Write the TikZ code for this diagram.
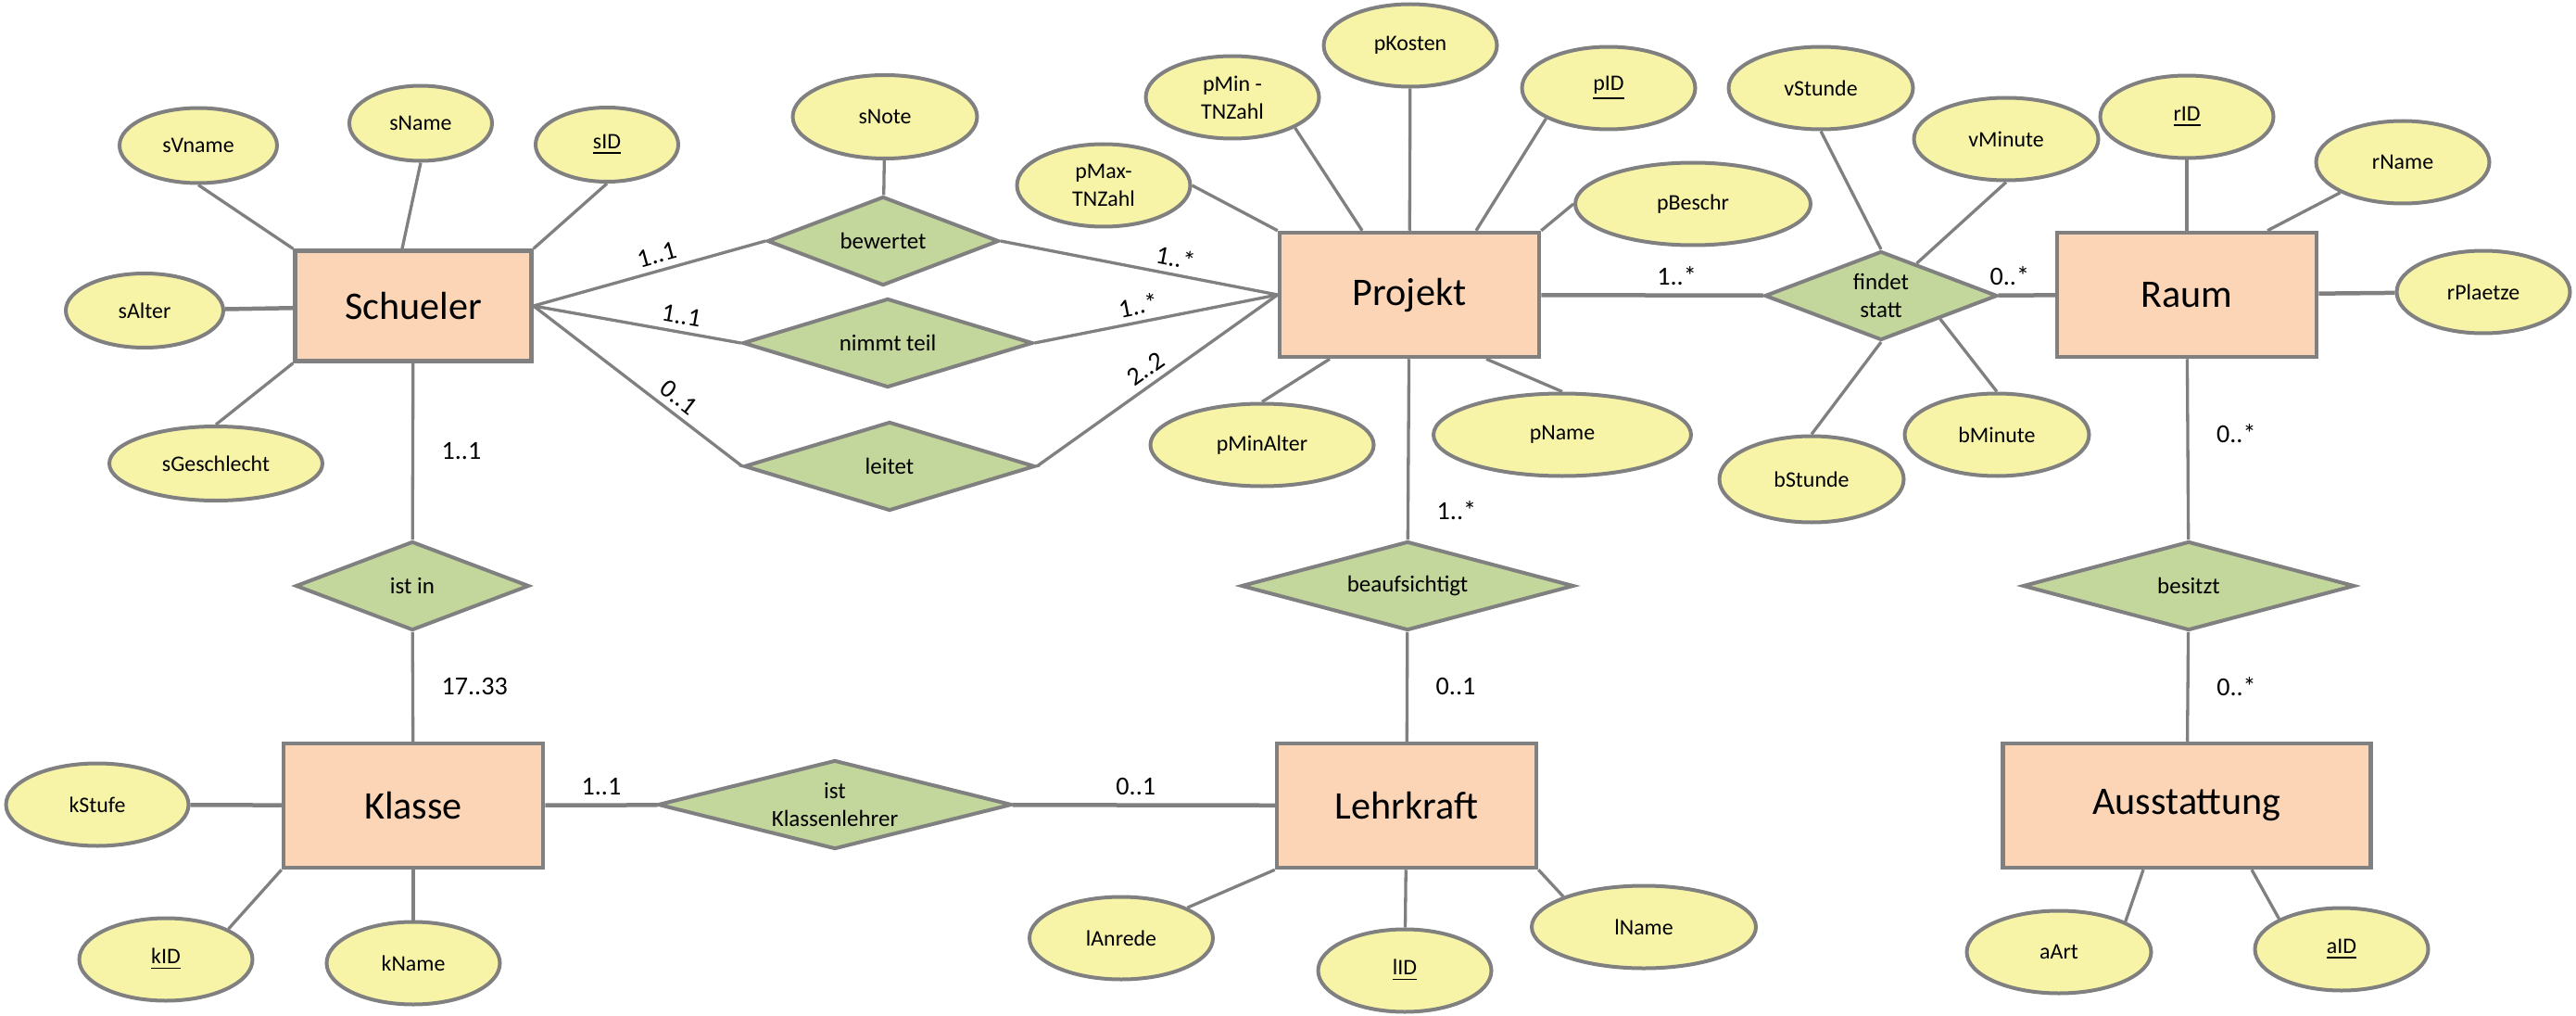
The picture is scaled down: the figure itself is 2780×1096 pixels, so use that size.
\documentclass[tikz,border=0pt]{standalone}
\usepackage{fontspec}
\setmainfont{Carlito}
\usetikzlibrary{shapes.geometric,positioning}
\definecolor{entityfill}{RGB}{251,213,181}
\definecolor{attrfill}{RGB}{247,244,168}
\definecolor{relfill}{RGB}{195,214,155}
\definecolor{erline}{RGB}{128,128,128}
\begin{document}
\begin{tikzpicture}[x=0.1mm, y=-0.1mm,
  entity/.style={rectangle, draw=erline, fill=entityfill, line width=0.45mm, minimum width=28mm, minimum height=13.4mm, font=\fontsize{12}{14}\selectfont},
  attr/.style={ellipse, draw=erline, fill=attrfill, line width=0.4mm, inner sep=0pt, align=center, minimum width=18.7mm, minimum height=8.9mm, font=\fontsize{6.8}{8.5}\selectfont},
  rel/.style={diamond, aspect=3, draw=erline, fill=relfill, line width=0.4mm, inner sep=0pt, align=center, minimum height=9.6mm, font=\fontsize{7.1}{8.5}\selectfont},
  conn/.style={draw=erline, line width=0.33mm},
  card/.style={font=\fontsize{8}{9.6}\selectfont, inner sep=1pt}]
\useasboundingbox (0,0) rectangle (2780,1096);

\node[entity, minimum width=25.5mm, minimum height=11.9mm] (schueler) at (446,330) {Schueler};
\node[entity] (projekt) at (1521,318) {Projekt};
\node[entity] (raum) at (2360,318) {Raum};
\node[entity] (klasse) at (446,869) {Klasse};
\node[entity] (lehrkraft) at (1518,869) {Lehrkraft};
\node[entity, minimum width=39.7mm] (ausstattung) at (2360,869) {Ausstattung};

\node[rel, minimum width=25mm] (bewertet) at (953,260) {bewertet};
\node[rel, minimum width=31.3mm] (nimmtteil) at (958,370) {nimmt teil};
\node[rel, minimum width=31.4mm] (leitet) at (960,503) {leitet};
\node[rel, minimum width=25.1mm] (findetstatt) at (2030,319) {findet\\statt};
\node[rel, minimum width=25.2mm] (istin) at (445,632) {ist in};
\node[rel, minimum width=35.9mm] (beaufsichtigt) at (1519,632) {beaufsichtigt};
\node[rel, minimum width=35.8mm] (besitzt) at (2362,632) {besitzt};
\node[rel, minimum width=38.2mm] (istkl) at (901,868) {ist\\Klassenlehrer};

\node[attr, minimum width=17mm, minimum height=8.1mm] (sVname) at (214,157) {sVname};
\node[attr, minimum width=15.4mm, minimum height=8.1mm] (sName) at (454,133) {sName};
\node[attr, minimum width=15.4mm, minimum height=8mm] (sID) at (655,156) {\underline{sID}};
\node[attr, minimum width=17mm, minimum height=8mm] (sAlter) at (156,335) {sAlter};
\node[attr, minimum width=23mm, minimum height=8mm] (sGeschlecht) at (233,500) {sGeschlecht};
\node[attr, minimum width=19.9mm, minimum height=9mm] (sNote) at (955,126) {sNote};
\node[attr] (pMaxTNZahl) at (1191,200) {pMax-\\TNZahl};
\node[attr] (pMinTNZahl) at (1330,105) {pMin -\\TNZahl};
\node[attr] (pKosten) at (1522,49) {pKosten};
\node[attr] (pID) at (1736,95) {\underline{pID}};
\node[attr, minimum width=25.4mm] (pBeschr) at (1827,220) {pBeschr};
\node[attr, minimum width=24.1mm] (pMinAlter) at (1362,480) {pMinAlter};
\node[attr, minimum width=27.8mm] (pName) at (1686,469) {pName};
\node[attr, minimum width=19.9mm] (vStunde) at (1965,95) {vStunde};
\node[attr, minimum width=19.9mm] (vMinute) at (2165,150) {vMinute};
\node[attr, minimum width=19.9mm, minimum height=9.3mm] (bStunde) at (1955,517) {bStunde};
\node[attr, minimum width=19.9mm] (bMinute) at (2155,469) {bMinute};
\node[attr] (rID) at (2360,126) {\underline{rID}};
\node[attr] (rName) at (2593,175) {rName};
\node[attr] (rPlaetze) at (2680,315) {rPlaetze};
\node[attr, minimum width=19.7mm] (kStufe) at (105,868) {kStufe};
\node[attr] (kID) at (179,1035) {\underline{kID}};
\node[attr] (kName) at (446,1039) {kName};
\node[attr, minimum width=19.8mm] (lAnrede) at (1210,1012) {lAnrede};
\node[attr] (lID) at (1516,1047) {\underline{lID}};
\node[attr, minimum width=24.2mm] (lName) at (1774,1000) {lName};
\node[attr, minimum width=19.9mm] (aArt) at (2222,1027) {aArt};
\node[attr] (aID) at (2527,1024) {\underline{aID}};

\draw[conn] (sVname.south) -- (schueler.north west);
\draw[conn] (sName.south) -- ([xshift=-1.2mm]schueler.north);
\draw[conn] (sID.south) -- (schueler.north east);
\draw[conn, line width=0.45mm] (sAlter) -- (schueler);
\draw[conn] (sGeschlecht.north) -- (schueler.south west);
\draw[conn] (schueler) -- node[card, right=2.6mm] {1..1} (istin);
\draw[conn] (schueler.east) -- node[card, sloped, above=0.3mm, pos=0.55] {1..1} (bewertet.west);
\draw[conn] (schueler.east) -- node[card, sloped, above=0.3mm, pos=0.7] {1..1} (nimmtteil.west);
\draw[conn] (schueler.east) -- node[card, sloped, above=0.3mm, pos=0.65] {0..1} (leitet.west);
\draw[conn] (bewertet.east) -- node[card, sloped, above=0.3mm, pos=0.62] {1..*} (projekt.west);
\draw[conn] (nimmtteil.east) -- node[card, sloped, above=0.3mm, pos=0.44] {1..*} (projekt.west);
\draw[conn] (leitet.east) -- node[card, sloped, above=0.3mm, pos=0.49] {2..2} (projekt.west);
\draw[conn] (sNote) -- (bewertet);

\draw[conn] (pMaxTNZahl.east) -- (projekt.north west);
\draw[conn] (pMinTNZahl.south east) -- ([xshift=-5.1mm]projekt.north);
\draw[conn] (pKosten) -- (projekt);
\draw[conn] (pID.south west) -- ([xshift=7.2mm]projekt.north);
\draw[conn] (pBeschr.west) -- (projekt.north east);
\draw[conn] (pMinAlter.north) -- ([xshift=-8.6mm]projekt.south);
\draw[conn] (pName.north) -- ([xshift=8.3mm]projekt.south);
\draw[conn] (projekt) -- node[card, right=2.6mm, pos=0.84] {1..*} (beaufsichtigt);
\draw[conn, line width=0.45mm] (projekt) -- node[card, above=0.5mm, pos=0.61] {1..*} (findetstatt);

\draw[conn, line width=0.45mm] (findetstatt) -- node[card, above=0.5mm, pos=0.2] {0..*} (raum);
\draw[conn] (vStunde.south) -- (findetstatt.north);
\draw[conn] (vMinute.south) -- (findetstatt);
\draw[conn] (bStunde.north) -- (findetstatt.south);
\draw[conn] (bMinute.north) -- (findetstatt.south east);
\draw[conn] (rID) -- (raum);
\draw[conn] (rName.south west) -- ([xshift=8.7mm]raum.north);
\draw[conn, line width=0.45mm] (rPlaetze) -- (raum);
\draw[conn] (raum) -- node[card, right=2.6mm, pos=0.41] {0..*} (besitzt);
\draw[conn] (besitzt) -- node[card, right=2.6mm] {0..*} (ausstattung);

\draw[conn] (istin) -- node[card, right=2.6mm] {17..33} (klasse);
\draw[conn, line width=0.45mm] (kStufe) -- (klasse);
\draw[conn] (kID.north east) -- (klasse.south west);
\draw[conn] (kName) -- (klasse);
\draw[conn, line width=0.45mm] (klasse) -- node[card, above=0.5mm] {1..1} (istkl);
\draw[conn, line width=0.45mm] (istkl) -- node[card, above=0.5mm, pos=0.47] {0..1} (lehrkraft);
\draw[conn] (beaufsichtigt) -- node[card, right=2.6mm] {0..1} (lehrkraft);
\draw[conn] (lAnrede.north east) -- (lehrkraft.south west);
\draw[conn] (lID) -- (lehrkraft);
\draw[conn] (lName.north west) -- (lehrkraft.south east);
\draw[conn] (aArt.north east) -- ([xshift=-4.7mm]ausstattung.south);
\draw[conn] (aID.north west) -- ([xshift=7mm]ausstattung.south);
\end{tikzpicture}
\end{document}
